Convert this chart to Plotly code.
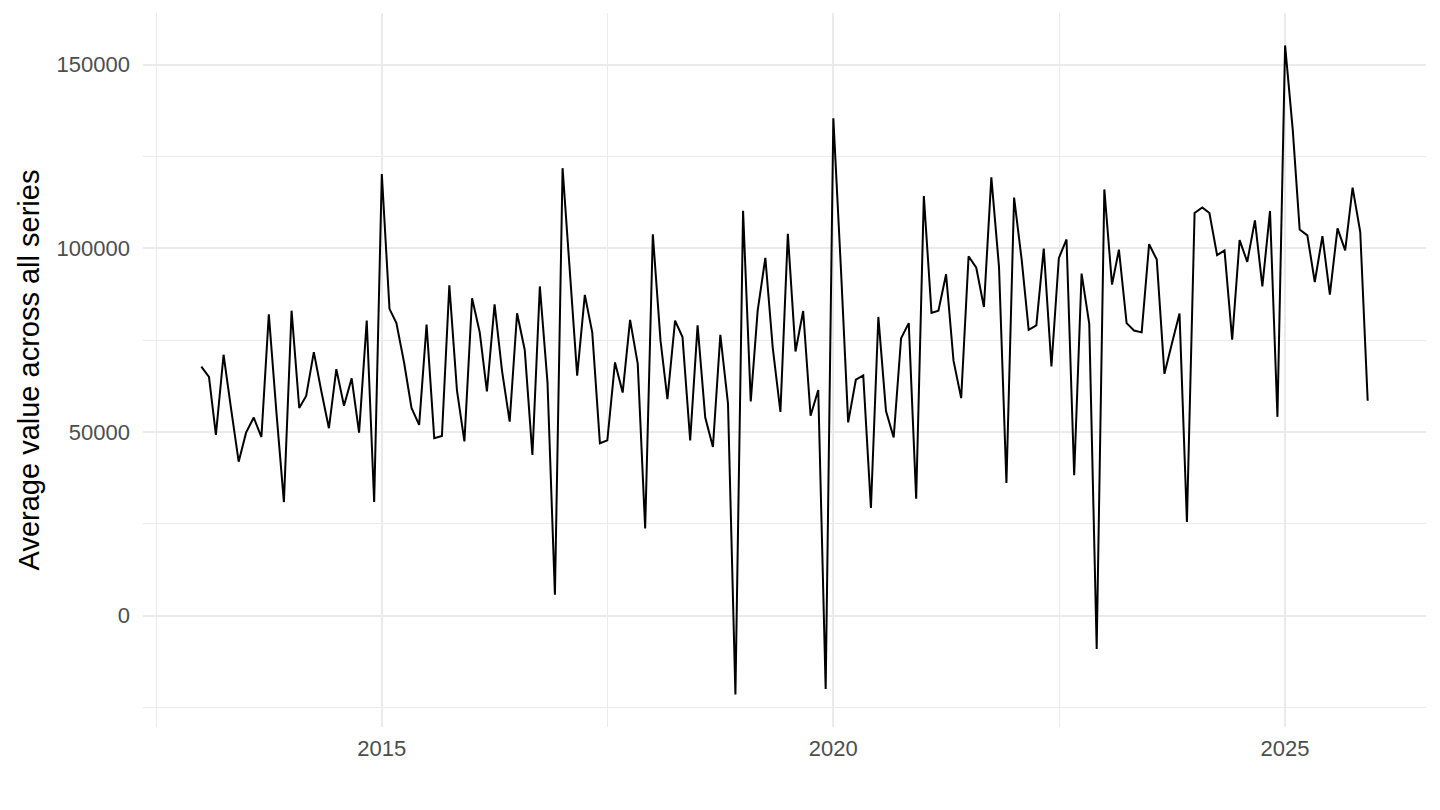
import pandas as pd
import plotly.graph_objects as go

# monthly averages, Jan 2013 .. Dec 2025
start_month = "2013-01-01"
avg_values = [
    67750, 65000, 49200, 71000, 56500, 41900, 49800, 53900, 48600, 82000, 55100, 30900,
    83000, 56500, 59800, 71700, 61200, 51000, 67100, 57100, 64600, 49800, 80300, 30900,
    120200, 83500, 79600, 68900, 56500, 51900, 79200, 48300, 48900, 89900, 61200, 47400,
    86400, 77100, 61000, 84700, 66700, 52800, 82300, 72300, 43700, 89600, 63500, 5650,
    121800, 93500, 65300, 87300, 77100, 46900, 47700, 68900, 60700, 80500, 68500, 23700,
    103800, 74900, 58900, 80300, 75800, 47700, 79000, 53900, 45900, 76400, 57700, -21500,
    110200, 58300, 83000, 97400, 72900, 55460, 103900, 71900, 82900, 54400, 61400, -20000,
    135400, 94000, 52600, 64200, 65400, 29300, 81300, 55700, 48500, 75500, 79600, 31800,
    114200, 82400, 83000, 92900, 69400, 59200, 97800, 94700, 84000, 119300, 94900, 36100,
    113800, 96700, 77800, 79000, 99900, 67800, 97300, 102400, 38200, 93100, 79400, -9100,
    116000, 90100, 99600, 79600, 77600, 77100, 101100, 96900, 65800, 74000, 82200, 25500,
    109600, 111100, 109600, 98100, 99400, 75100, 102200, 96300, 107600, 89600, 110100, 54100,
    155200, 132200, 105100, 103500, 90800, 103300, 87400, 105400, 99400, 116500, 104400, 58500,
]
months = pd.date_range(start_month, periods=len(avg_values), freq="MS")

y_ticks = [0, 50000, 100000, 150000]
x_ticks = ["2015-01-01", "2020-01-01", "2025-01-01"]
x_tick_labels = ["2015", "2020", "2025"]

grid_col = "#EBEBEB"

fig = go.Figure()
fig.add_trace(go.Scatter(
    x=months,
    y=avg_values,
    mode="lines",
    line=dict(color="black", width=2),
    showlegend=False,
))

# ggplot-style 5% expansion of the data range
x_span = months[-1] - months[0]
x_range = [months[0] - x_span * 0.05, months[-1] + x_span * 0.05]
y_lo, y_hi = min(avg_values), max(avg_values)
y_pad = (y_hi - y_lo) * 0.05

# page body adds ~8px offset, margins compensate for it
fig.update_layout(
    width=1440,
    height=810,
    plot_bgcolor="white",
    paper_bgcolor="white",
    margin=dict(l=135, r=22, t=5, b=91),
    font=dict(family="Liberation Sans, Arial, sans-serif", size=22, color="#4D4D4D"),
)

fig.update_xaxes(
    range=x_range,
    tickvals=x_ticks,
    ticktext=x_tick_labels,
    showgrid=True,
    gridcolor=grid_col,
    gridwidth=2,
    zeroline=False,
    showline=False,
    ticks="",
    ticklabelstandoff=6,
    automargin=False,
    minor=dict(tick0="2012-07-02", dtick="M60", showgrid=True, gridcolor=grid_col, gridwidth=1.2),
)

fig.update_yaxes(
    range=[y_lo - y_pad, y_hi + y_pad],
    tickvals=y_ticks,
    tickformat="d",
    showgrid=True,
    gridcolor=grid_col,
    gridwidth=2,
    zeroline=False,
    showline=False,
    ticks="",
    ticklabelstandoff=12,
    automargin=False,
    minor=dict(tick0=-25000, dtick=25000, showgrid=True, gridcolor=grid_col, gridwidth=1.2),
    title=dict(text="Average value across all series",
               font=dict(size=29, color="black"), standoff=8),
)

fig.write_html("out.html")
